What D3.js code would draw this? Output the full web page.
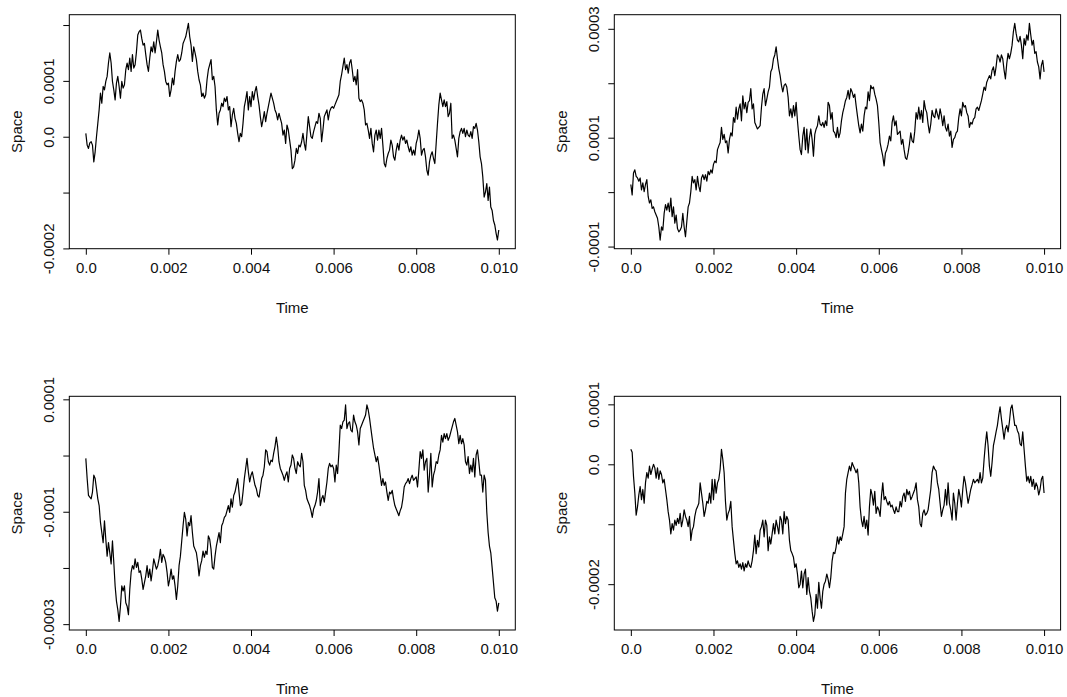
<!DOCTYPE html>
<html><head><meta charset="utf-8">
<script src="https://cdn.jsdelivr.net/npm/d3@7"></script>
<style>
body{margin:0;background:#fff}
text{font-family:"Liberation Sans",Arial,Helvetica,sans-serif;fill:#111}
</style>
</head><body>
<svg id="chart" width="1067" height="697"></svg>
<script>
// ---------- data ----------
const T_END = 0.01;            // time runs from 0 to T_END on a regular grid
const SPACE_UNIT = 1e-6;       // space values below are given in units of 1e-6

const xTicks = [0, 0.002, 0.004, 0.006, 0.008, 0.010];
const xTickLabels = ["0.0", "0.002", "0.004", "0.006", "0.008", "0.010"];

const space1 = [6,-15,-21,-11,-9,-15,-45,-27,0,24,48,78,60,90,84,99,108,132,150,132,99,84,66,96,108,90,69,99,87,93,120,132,120,141,117,147,123,129,152,182,188,191,176,164,167,147,129,117,141,161,152,170,150,170,191,173,161,150,129,117,99,93,96,72,84,105,93,117,135,147,135,138,150,167,173,179,191,203,179,164,135,161,150,138,117,102,93,72,78,69,75,102,120,129,138,102,108,90,48,21,42,48,60,54,69,63,72,48,54,18,39,51,33,24,6,-9,6,0,24,54,66,81,48,72,54,81,66,81,90,72,57,36,18,30,45,27,42,54,66,78,69,60,48,42,30,42,33,24,3,12,-12,21,12,-6,-24,-57,-54,-42,-21,-30,-15,-18,-9,6,-12,-24,6,36,18,0,-3,9,18,27,24,42,33,-9,12,36,42,48,30,45,51,54,51,57,63,69,75,99,111,126,141,120,129,114,132,138,120,99,108,93,120,69,63,66,60,48,21,24,12,-3,15,-12,-27,3,12,-6,12,-3,15,-15,-48,-54,-39,-30,-24,-6,-15,-36,-42,-24,-12,-24,-6,3,-6,0,-12,-6,-18,-27,-18,-33,-24,-33,-12,-3,12,-3,-33,-24,-21,-36,-60,-69,-45,-33,-27,-39,-48,-12,24,57,78,66,54,66,54,63,36,42,60,-3,3,-6,-21,-36,-3,9,15,6,15,0,12,3,0,9,-3,18,15,24,12,-9,-36,-48,-72,-108,-99,-84,-114,-90,-126,-132,-150,-158,-173,-185,-167];

const space2 = [14,-5,35,41,29,26,20,26,4,17,1,14,23,-8,-20,-14,-30,-27,-36,-42,-48,-64,-88,-64,-70,-39,-23,-33,-20,-36,-11,-45,-27,-57,-42,-67,-73,-70,-64,-39,-64,-82,-54,-27,-20,1,29,17,23,4,29,11,1,26,32,23,32,20,38,32,41,35,51,57,54,78,85,91,119,97,106,91,94,72,97,109,103,137,128,156,134,153,162,131,177,153,165,146,165,168,190,153,162,128,122,116,119,122,156,180,190,159,171,184,193,221,227,245,252,267,245,227,214,196,184,196,199,193,174,140,153,137,159,140,165,131,103,78,69,103,119,78,116,72,100,116,97,66,106,116,122,140,125,122,128,119,131,122,165,159,134,146,112,109,100,119,100,109,131,146,156,168,174,187,171,190,184,174,180,159,140,122,109,125,112,140,156,153,184,168,196,190,193,180,171,159,128,91,78,66,48,72,78,88,103,94,128,140,122,131,106,109,112,88,97,78,63,60,72,88,109,94,91,112,146,134,156,134,150,128,168,153,146,125,109,125,150,140,137,153,143,134,153,140,122,140,119,112,125,103,112,82,97,100,109,112,137,153,140,165,156,159,146,140,119,128,125,134,137,153,156,150,159,168,180,193,187,202,208,214,208,224,230,214,230,252,248,239,252,245,224,208,236,255,245,255,270,295,310,292,279,276,286,270,245,282,270,289,279,310,289,270,279,255,258,239,230,208,233,242,221];

const space3 = [-5,-41,-71,-74,-77,-65,-35,-41,-59,-77,-89,-119,-137,-155,-116,-149,-179,-155,-173,-193,-152,-190,-232,-259,-274,-295,-268,-232,-241,-232,-262,-268,-283,-238,-208,-196,-202,-184,-199,-190,-208,-205,-220,-238,-226,-214,-196,-217,-202,-223,-205,-184,-193,-202,-196,-184,-167,-190,-176,-181,-190,-208,-232,-220,-202,-220,-214,-232,-256,-232,-196,-179,-152,-125,-101,-113,-143,-119,-125,-107,-137,-161,-167,-173,-190,-214,-196,-187,-170,-181,-170,-176,-143,-149,-167,-199,-202,-179,-161,-149,-137,-155,-125,-119,-110,-107,-98,-89,-101,-77,-92,-71,-65,-53,-41,-65,-89,-86,-65,-41,-23,-5,-29,-47,-35,-29,-41,-53,-59,-71,-74,-59,-41,-35,-20,10,7,-11,-17,-8,-11,4,16,33,16,-11,-23,-29,-35,-44,-35,-29,-47,-23,-17,1,-5,-23,-32,-11,-17,-20,4,-11,-53,-62,-77,-83,-89,-98,-110,-95,-89,-80,-65,-41,-89,-77,-71,-83,-65,-47,-23,-14,-20,-17,-23,-47,-17,-32,7,54,48,60,63,90,48,57,60,45,42,72,60,54,42,19,48,54,60,66,72,90,81,66,48,30,13,1,-11,-2,-17,-35,-53,-41,-53,-47,-65,-80,-65,-68,-62,-77,-89,-95,-101,-107,-98,-92,-77,-56,-50,-47,-41,-50,-41,-35,-44,-41,-38,-56,-26,7,-5,10,-26,-11,-5,-65,-35,4,-56,-35,-26,-11,-14,1,10,36,24,39,30,39,27,33,42,51,60,66,54,42,21,36,21,30,19,-11,-17,-2,-32,-17,-29,-5,-38,1,10,-11,-35,-35,-65,-35,-44,-101,-137,-161,-173,-199,-226,-253,-259,-277,-262];

const space4 = [25,20,-20,-48,-85,-71,-51,-37,-59,-42,-65,-31,-14,-23,-3,-17,-8,0,-6,-23,-6,-25,-11,-17,-31,-25,-42,-59,-79,-93,-116,-99,-110,-93,-102,-90,-99,-82,-104,-93,-76,-87,-93,-104,-87,-127,-110,-104,-87,-76,-71,-65,-31,-48,-65,-87,-76,-62,-65,-48,-65,-25,-59,-25,-48,-31,-25,-8,25,8,-14,-62,-93,-82,-76,-62,-104,-127,-149,-166,-161,-172,-166,-175,-164,-178,-166,-172,-161,-169,-172,-161,-144,-118,-149,-127,-138,-110,-104,-93,-121,-93,-102,-144,-121,-133,-116,-99,-116,-93,-104,-116,-87,-93,-116,-79,-99,-87,-93,-127,-144,-149,-155,-172,-166,-183,-206,-200,-178,-206,-183,-175,-217,-189,-212,-223,-245,-262,-251,-217,-240,-197,-223,-240,-212,-200,-195,-183,-192,-206,-189,-161,-147,-149,-138,-121,-133,-121,-127,-116,-104,-48,-25,-14,-3,-11,3,-3,-8,-14,-8,-31,-71,-93,-104,-87,-107,-93,-118,-71,-42,-51,-68,-45,-82,-71,-76,-87,-54,-31,-59,-54,-62,-68,-62,-71,-68,-76,-82,-71,-79,-79,-62,-71,-54,-48,-62,-42,-51,-45,-59,-54,-48,-42,-31,-59,-71,-99,-104,-82,-76,-85,-82,-76,-59,-42,-14,-3,-8,-11,-31,-42,-65,-87,-76,-68,-42,-68,-31,-65,-76,-93,-48,-65,-93,-65,-42,-54,-71,-42,-20,-31,-48,-65,-54,-42,-34,-25,-31,-28,-25,-31,-14,-31,-23,8,34,54,31,-3,-20,3,31,42,54,65,82,96,76,59,42,59,65,54,71,93,99,82,65,65,56,51,34,31,54,25,-3,-28,-20,-31,-20,-37,-25,-42,-31,-37,-51,-42,-25,-20,-48];

const yTicks1 = [-0.0002, -0.0001, 0, 0.0001, 0.0002];
const yTickLabels1 = ["-0.0002", "", "0.0", "0.0001", ""];
const yTicks2 = [-0.0001, 0, 0.0001, 0.0002, 0.0003];
const yTickLabels2 = ["-0.0001", "", "0.0001", "", "0.0003"];
const yTicks3 = [-0.0003, -0.0002, -0.0001, 0, 0.0001];
const yTickLabels3 = ["-0.0003", "", "-0.0001", "", "0.0001"];
const yTicks4 = [-0.0002, -0.0001, 0, 0.0001];
const yTickLabels4 = ["-0.0002", "", "0.0", "0.0001"];

const xTitle = "Time";
const yTitle = "Space";

// ---------- layout ----------
const panels = [
  {values: space1, yTicks: yTicks1, yLabels: yTickLabels1, left: 69.3, top: 14.7, w: 446, h: 234},
  {values: space2, yTicks: yTicks2, yLabels: yTickLabels2, left: 614.3, top: 14.7, w: 446.3, h: 234},
  {values: space3, yTicks: yTicks3, yLabels: yTickLabels3, left: 69.3, top: 396.3, w: 446, h: 233.7},
  {values: space4, yTicks: yTicks4, yLabels: yTickLabels4, left: 614.3, top: 396.3, w: 446.3, h: 233.7}
];

const svg = d3.select("#chart");
const FS = 15;

panels.forEach(p => {
  const n = p.values.length;
  const data = p.values.map((v, i) => ({t: i * T_END / (n - 1), s: v * SPACE_UNIT}));

  const g = svg.append("g").attr("transform", `translate(${p.left},${p.top})`);

  const x = d3.scaleLinear()
    .domain([-0.04 * T_END, 1.04 * T_END])
    .range([0, p.w]);
  const ext = d3.extent(data, d => d.s);
  const pad = 0.04 * (ext[1] - ext[0]);
  const y = d3.scaleLinear()
    .domain([ext[0] - pad, ext[1] + pad])
    .range([p.h, 0]);

  // line
  g.append("path")
    .datum(data)
    .attr("fill", "none")
    .attr("stroke", "#000")
    .attr("stroke-width", 1.2)
    .attr("stroke-linejoin", "round")
    .attr("d", d3.line().x(d => x(d.t)).y(d => y(d.s)));

  // box
  g.append("rect")
    .attr("x", 0).attr("y", 0).attr("width", p.w).attr("height", p.h)
    .attr("fill", "none").attr("stroke", "#000").attr("stroke-width", 1);

  // x axis
  const xa = g.append("g").attr("transform", `translate(0,${p.h})`)
    .call(d3.axisBottom(x).tickValues(xTicks).tickSize(6)
      .tickFormat((d, i) => xTickLabels[i]));
  xa.select(".domain").remove();
  xa.selectAll(".tick line").attr("stroke", "#000");
  xa.selectAll(".tick text")
    .attr("y", 19).attr("dy", "0.35em")
    .style("font-size", FS + "px").attr("fill", "#111");

  // y axis
  const ya = g.append("g")
    .call(d3.axisLeft(y).tickValues(p.yTicks).tickSize(6)
      .tickFormat((d, i) => p.yLabels[i]));
  ya.select(".domain").remove();
  ya.selectAll(".tick line").attr("stroke", "#000");
  ya.selectAll(".tick text")
    .attr("x", null).attr("dy", "0.35em")
    .attr("transform", "translate(-21,0) rotate(-90)")
    .attr("text-anchor", "middle")
    .style("font-size", FS + "px").attr("fill", "#111");

  // titles
  g.append("text")
    .attr("x", x(T_END / 2)).attr("y", p.h + 59).attr("dy", "0.35em")
    .attr("text-anchor", "middle").style("font-size", FS + "px")
    .text(xTitle);
  g.append("text")
    .attr("transform", `translate(-53,${p.h / 2}) rotate(-90)`)
    .attr("dy", "0.35em")
    .attr("text-anchor", "middle").style("font-size", FS + "px")
    .text(yTitle);
});
</script>
</body></html>
